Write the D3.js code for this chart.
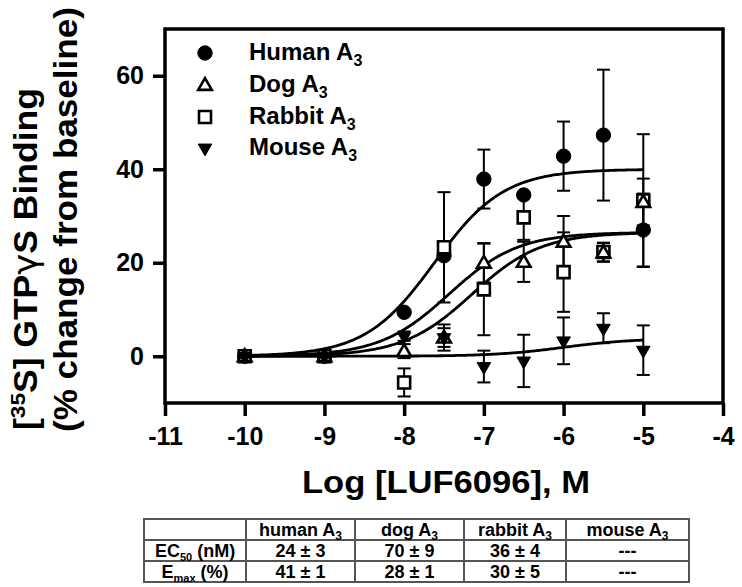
<!DOCTYPE html>
<html><head><meta charset="utf-8">
<script src="https://cdn.jsdelivr.net/npm/d3@7"></script>
<style>
body{margin:0;background:#fff}
svg{display:block}
text{font-family:"Liberation Sans",Arial,Helvetica,sans-serif;font-weight:bold;fill:#000}
</style>
</head><body>
<svg id="chart" width="742" height="587"></svg>
<script>
// ---------- data ----------
const logConc   = [-10, -9, -8, -7.5, -7, -6.5, -6, -5.5, -5];
const humanMean = [0, 0, 9.4, 21.5, 37.9, 34.5, 42.8, 47.3, 27.0];
const humanErr  = [0, 0, 0, 0, 6.3, 0, 7.4, 14.0, 7.8];
const dogMean   = [0, 0, 1.1, 4.0, 20.0, 20.2, 24.5, 22.2, 33.0];
const dogErr    = [0, 0, 1.5, 2.8, 4.2, 4.3, 5.5, 2.0, 5.0];
const rabbitMean= [0, 0, -5.6, 23.3, 14.3, 29.7, 18.0, 22.3, 33.3];
const rabbitErr = [0, 0, 3.0, 11.8, 9.8, 4.8, 8.5, 2.0, 14.2];
const mouseMean = [0, 0, 4.3, 4.0, -2.2, -1.0, 3.3, 6.0, 1.3];
const mouseErr  = [0, 0, 1.0, 2.0, 3.4, 5.6, 5.0, 3.2, 5.3];

const seriesNames = ["Human", "Dog", "Rabbit", "Mouse"];
// fitted sigmoid parameters (bottom, top, logEC50, Hill slope)
const fitBottom  = [0, 0, 0, 0];
const fitTop     = [40, 26.5, 26.5, 3.8];
const fitLogEC50 = [-7.62, -7.15, -7.44, -6.0];
const fitHill    = [1, 1, 1, 1];

const xTicks = [-11, -10, -9, -8, -7, -6, -5, -4];
const yTicks = [0, 20, 40, 60];

const tableHeader = ["human", "dog", "rabbit", "mouse"];
const ec50Row = ["24 ± 3", "70 ± 9", "36 ± 4", "---"];
const emaxRow = ["41 ± 1", "28 ± 1", "30 ± 5", "---"];

// ---------- setup ----------
const svg = d3.select("#chart");
const x = d3.scaleLinear().domain([-11, -4]).range([165, 723]);
const y = d3.scaleLinear().domain([-10, 70]).range([403, 29]);

const series = [
  {name: seriesNames[0], mean: humanMean, err: humanErr, sym: "circle"},
  {name: seriesNames[2], mean: rabbitMean, err: rabbitErr, sym: "square"},
  {name: seriesNames[1], mean: dogMean, err: dogErr, sym: "up"},
  {name: seriesNames[3], mean: mouseMean, err: mouseErr, sym: "down"}
];

function symbolPath(kind) {
  if (kind === "circle") return d3.symbol(d3.symbolCircle, Math.PI * 7.2 * 7.2)();
  if (kind === "square") return d3.symbol(d3.symbolSquare, 12 * 12)();
  return d3.symbol(d3.symbolTriangle, 80)();
}
function styleSymbol(sel, kind) {
  sel.attr("d", symbolPath(kind));
  if (kind === "circle" || kind === "down") {
    sel.attr("fill", "#000").attr("stroke", "#000").attr("stroke-width", 1);
  } else {
    sel.attr("fill", "#fff").attr("stroke", "#000").attr("stroke-width", 2.6);
  }
}
function symTransform(kind, cx, cy) {
  if (kind === "down") return `translate(${cx},${cy}) rotate(180)`;
  if (kind === "up") return `translate(${cx},${cy + 1})`;
  return `translate(${cx},${cy})`;
}

// ---------- axes ----------
const fmt = d => String(d);
const yAxis = d3.axisLeft(y).tickValues(yTicks).tickFormat(fmt).tickSize(12).tickPadding(9);
const gy = svg.append("g").attr("transform", "translate(165,0)").call(yAxis);
const xAxis = d3.axisBottom(x).tickValues(xTicks).tickFormat(fmt).tickSize(13).tickPadding(11);
const gx = svg.append("g").attr("transform", "translate(0,403)").call(xAxis);
[gx, gy].forEach(g => {
  g.select(".domain").remove();
  g.selectAll(".tick line").attr("stroke", "#000").attr("stroke-width", 3.5);
  g.selectAll(".tick text").style("font-size", "25px").attr("fill", "#000")
    .style("font-family", '"Liberation Sans",Arial,sans-serif').style("font-weight", "bold");
});

// frame
svg.append("rect").attr("x", x(-11)).attr("y", y(70))
  .attr("width", x(-4) - x(-11)).attr("height", y(-10) - y(70))
  .attr("fill", "none").attr("stroke", "#000").attr("stroke-width", 3.5);

// ---------- fitted curves ----------
const curveX = d3.range(-10, -4.999, 0.02);
const line = d3.line().x(d => x(d[0])).y(d => y(d[1])).curve(d3.curveLinear);
for (let i = 0; i < 4; i++) {
  const pts = curveX.map(v => [v, fitBottom[i] + (fitTop[i] - fitBottom[i]) / (1 + Math.pow(10, (fitLogEC50[i] - v) * fitHill[i]))]);
  svg.append("path").attr("d", line(pts)).attr("fill", "none")
    .attr("stroke", "#000").attr("stroke-width", 2.8);
}

// ---------- error bars ----------
series.forEach(s => {
  const g = svg.append("g").attr("stroke", "#000").attr("stroke-width", 2);
  logConc.forEach((lc, i) => {
    const e = s.err[i];
    if (e <= 0) return;
    const cx = x(lc), y1 = y(s.mean[i] + e), y2 = y(s.mean[i] - e);
    g.append("line").attr("x1", cx).attr("x2", cx).attr("y1", y1).attr("y2", y2);
    g.append("line").attr("x1", cx - 6.5).attr("x2", cx + 6.5).attr("y1", y1).attr("y2", y1);
    g.append("line").attr("x1", cx - 6.5).attr("x2", cx + 6.5).attr("y1", y2).attr("y2", y2);
  });
});

// ---------- markers ----------
series.forEach(s => {
  svg.append("g").selectAll("path").data(logConc).join("path")
    .each(function(lc, i) {
      const p = d3.select(this);
      styleSymbol(p, s.sym);
      p.attr("transform", symTransform(s.sym, x(lc), y(s.mean[i])));
    });
});

// ---------- legend ----------
const legendOrder = [
  {label: seriesNames[0], sym: "circle"},
  {label: seriesNames[1], sym: "up"},
  {label: seriesNames[2], sym: "square"},
  {label: seriesNames[3], sym: "down"}
];
const legendRowY = [53, 85, 117, 148];
legendOrder.forEach((l, i) => {
  const p = svg.append("path");
  styleSymbol(p, l.sym);
  p.attr("transform", symTransform(l.sym, 205, legendRowY[i]));
  const t = svg.append("text").attr("x", 249).attr("y", legendRowY[i] + 7)
    .style("font-size", "24px");
  t.append("tspan").text(l.label + " A");
  t.append("tspan").attr("dy", 6).style("font-size", "16px").text("3");
});

// ---------- axis titles ----------
svg.append("text").attr("x", 302).attr("y", 493)
  .attr("textLength", 288).attr("lengthAdjust", "spacingAndGlyphs")
  .style("font-size", "31px").text("Log [LUF6096], M");

const yt1 = svg.append("text").attr("transform", "translate(37,430) rotate(-90)")
  .attr("textLength", 342).attr("lengthAdjust", "spacingAndGlyphs")
  .style("font-size", "33px");
yt1.append("tspan").text("[");
yt1.append("tspan").attr("dy", -12).style("font-size", "21px").text("35");
yt1.append("tspan").attr("dy", 12).text("S] GTP");
yt1.append("tspan").style("font-family", '"DejaVu Sans",sans-serif').style("font-weight", "normal").text("γ");
yt1.append("tspan").text("S Binding");
svg.append("text").attr("transform", "translate(77,432) rotate(-90)")
  .attr("textLength", 425).attr("lengthAdjust", "spacingAndGlyphs")
  .style("font-size", "33px").text("(% change from baseline)");

// ---------- table ----------
const colX = [144, 246, 355, 464, 566, 689];
const rowY = [519, 540, 561, 582];
const tg = svg.append("g");
tg.append("rect").attr("x", colX[0]).attr("y", rowY[0])
  .attr("width", colX[5] - colX[0]).attr("height", rowY[3] - rowY[0])
  .attr("fill", "none").attr("stroke", "#555").attr("stroke-width", 2);
colX.slice(1, 5).forEach(cx => tg.append("line").attr("x1", cx).attr("x2", cx)
  .attr("y1", rowY[0]).attr("y2", rowY[3]).attr("stroke", "#555").attr("stroke-width", 2));
rowY.slice(1, 3).forEach(ry => tg.append("line").attr("x1", colX[0]).attr("x2", colX[5])
  .attr("y1", ry).attr("y2", ry).attr("stroke", "#555").attr("stroke-width", 2));

const cellCx = i => (colX[i] + colX[i + 1]) / 2;
const cellBase = r => (rowY[r] + rowY[r + 1]) / 2 + 6;
tableHeader.forEach((h, i) => {
  const t = tg.append("text").attr("x", cellCx(i + 1)).attr("y", cellBase(0))
    .attr("text-anchor", "middle").style("font-size", "18px");
  t.append("tspan").text(h + " A");
  t.append("tspan").attr("dy", 4).style("font-size", "12px").text("3");
});
// row labels
const r1 = tg.append("text").attr("x", cellCx(0)).attr("y", cellBase(1))
  .attr("text-anchor", "middle").style("font-size", "18px");
r1.append("tspan").text("EC");
r1.append("tspan").attr("dy", 4).style("font-size", "11px").text("50");
r1.append("tspan").attr("dy", -4).text(" (nM)");
const r2 = tg.append("text").attr("x", cellCx(0)).attr("y", cellBase(2))
  .attr("text-anchor", "middle").style("font-size", "18px");
r2.append("tspan").text("E");
r2.append("tspan").attr("dy", 4).style("font-size", "11px").text("max");
r2.append("tspan").attr("dy", -4).text(" (%)");
ec50Row.forEach((v, i) => tg.append("text").attr("x", cellCx(i + 1)).attr("y", cellBase(1))
  .attr("text-anchor", "middle").style("font-size", "18px").text(v));
emaxRow.forEach((v, i) => tg.append("text").attr("x", cellCx(i + 1)).attr("y", cellBase(2))
  .attr("text-anchor", "middle").style("font-size", "18px").text(v));
</script>
</body></html>
